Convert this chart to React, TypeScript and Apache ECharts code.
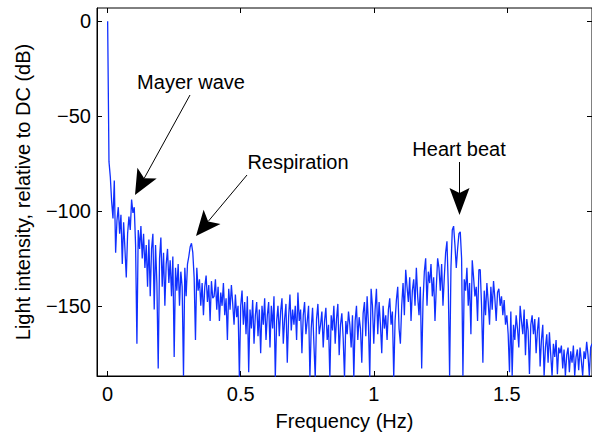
import { useEffect, useRef } from 'react';
import * as echarts from 'echarts';

const FREQ_STEP = 0.005;

const psd000to030 = [
  0, -74, -82, -95, -104, -84, -122, -105, -98, -112, -102, -128, -106, -120, -135, -112, -103, -110, -94, -101,
  -98, -118, -170, -110, -120, -108, -125, -112, -130, -118, -140, -115, -145, -120, -112, -152, -118, -138, -183, -125,
  -114, -140, -122, -150, -128, -120, -138, -126, -145, -124, -177, -130, -142, -128, -150, -132, -140, -187, -130, -145,
];
const psd030to060 = [
  -128, -124, -119, -117, -122, -135, -168, -130, -142, -136, -150, -138, -155, -140, -134, -148, -139, -158, -137, -146,
  -145, -136, -152, -140, -158, -143, -150, -138, -155, -146, -168, -141, -152, -139, -149, -160, -144, -156, -150, -188,
  -150, -142, -160, -148, -165, -145, -185, -152, -162, -147, -170, -155, -148, -166, -152, -175, -150, -160, -146, -168,
];
const psd060to090 = [
  -155, -148, -172, -150, -162, -145, -188, -158, -150, -166, -153, -146, -170, -157, -149, -180, -156, -144, -163, -152,
  -160, -150, -168, -143, -158, -152, -175, -155, -148, -165, -158, -150, -188, -162, -151, -170, -188, -157, -149, -165,
  -160, -153, -172, -158, -151, -168, -160, -188, -155, -163, -150, -170, -157, -149, -176, -160, -154, -167, -188, -158,
];
const psd090to120 = [
  -165, -153, -160, -172, -155, -188, -158, -150, -168, -156, -162, -180, -154, -148, -166, -145, -160, -188, -141, -150,
  -170, -152, -141, -165, -148, -160, -175, -150, -162, -155, -168, -152, -146, -160, -153, -188, -158, -147, -140, -162,
  -170, -150, -138, -155, -131, -140, -148, -135, -158, -142, -136, -150, -130, -145, -155, -140, -183, -148, -132, -125,
];
const psd120to150 = [
  -150, -132, -138, -128, -145, -135, -158, -140, -125, -130, -142, -128, -150, -135, -122, -116, -140, -187, -130, -110,
  -108, -118, -130, -120, -112, -111, -125, -187, -136, -142, -130, -150, -138, -165, -126, -135, -145, -140, -158, -131,
  -131, -150, -180, -142, -155, -138, -148, -160, -140, -152, -137, -146, -158, -143, -141, -150, -145, -155, -147, -160,
];
const psd150to182 = [
  -155, -165, -185, -153, -187, -160, -168, -155, -162, -172, -150, -158, -165, -152, -176, -157, -163, -186, -160, -155,
  -165, -157, -175, -163, -156, -182, -168, -160, -187, -172, -165, -180, -164, -176, -187, -170, -177, -168, -186, -172,
  -175, -171, -183, -173, -187, -176, -172, -185, -174, -180, -171, -187, -177, -173, -184, -172, -179, -187, -174, -178,
  -169, -176, -187, -172, -170,
];

const xTicks = [0, 0.5, 1, 1.5];
const yTicks = [0, -50, -100, -150];

const FONT = 'Liberation Sans, Arial, Helvetica, sans-serif';

function arrow(fx: number, fy: number, tx: number, ty: number, len: number, half: number, notch: number) {
  const dx = tx - fx;
  const dy = ty - fy;
  const d = Math.hypot(dx, dy);
  const ux = dx / d;
  const uy = dy / d;
  const nx = -uy;
  const ny = ux;
  const bx = tx - len * ux;
  const by = ty - len * uy;
  const kx = tx - (len - notch) * ux;
  const ky = ty - (len - notch) * uy;
  return [
    {
      type: 'line',
      shape: { x1: fx, y1: fy, x2: kx, y2: ky },
      style: { stroke: '#000', lineWidth: 1 },
      silent: true,
    },
    {
      type: 'polygon',
      shape: {
        points: [
          [tx, ty],
          [bx + half * nx, by + half * ny],
          [kx, ky],
          [bx - half * nx, by - half * ny],
        ],
      },
      style: { fill: '#000' },
      silent: true,
    },
  ];
}

function label(text: string, x: number, y: number) {
  return {
    type: 'text',
    x,
    y,
    style: {
      text,
      fill: '#000',
      font: `20px ${FONT}`,
      align: 'center',
      verticalAlign: 'middle',
    },
    silent: true,
  };
}

export default function App() {
  const ref = useRef<HTMLDivElement>(null);

  useEffect(() => {
    if (!ref.current) return;
    const chart = echarts.init(ref.current, null, { renderer: 'svg' });

    const values = [...psd000to030, ...psd030to060, ...psd060to090, ...psd090to120, ...psd120to150, ...psd150to182];
    const data = values.map((v, i) => [Number((i * FREQ_STEP).toFixed(3)), v]);

    const fmt = (v: number) => String(v).replace('-', '\u2212');

    const tick = (vals: number[]) => ({
      show: true,
      inside: true,
      length: 5,
      customValues: vals,
      lineStyle: { color: '#000', width: 1 },
    });

    const option: any = {
      animation: false,
      backgroundColor: '#fff',
      grid: {
        left: 97,
        top: 8,
        right: -1,
        bottom: 58,
        show: true,
        borderColor: '#000',
        borderWidth: 1,
        backgroundColor: 'transparent',
      },
      xAxis: [
        {
          type: 'value',
          min: -0.04,
          max: 1.82,
          position: 'bottom',
          name: 'Frequency (Hz)',
          nameLocation: 'middle',
          nameGap: 35,
          nameTextStyle: { color: '#000', fontSize: 20, fontFamily: FONT },
          axisLine: { show: true, onZero: false, lineStyle: { color: '#000', width: 1 } },
          axisTick: tick(xTicks),
          axisLabel: { show: true, customValues: xTicks, color: '#000', fontSize: 20, fontFamily: FONT, margin: 8, formatter: fmt },
          splitLine: { show: false },
        },
        {
          type: 'value',
          min: -0.04,
          max: 1.82,
          position: 'top',
          axisLine: { show: false, onZero: false },
          axisTick: tick(xTicks),
          axisLabel: { show: false },
          splitLine: { show: false },
        },
      ],
      yAxis: [
        {
          type: 'value',
          min: -187,
          max: 7,
          position: 'left',
          name: 'Light intensity, relative to DC (dB)',
          nameLocation: 'middle',
          nameGap: 64,
          nameTextStyle: { color: '#000', fontSize: 20, fontFamily: FONT },
          axisLine: { show: true, onZero: false, lineStyle: { color: '#000', width: 1 } },
          axisTick: tick(yTicks),
          axisLabel: { show: true, customValues: yTicks, color: '#000', fontSize: 20, fontFamily: FONT, margin: 6, formatter: fmt },
          splitLine: { show: false },
        },
        {
          type: 'value',
          min: -187,
          max: 7,
          position: 'right',
          axisLine: { show: false, onZero: false },
          axisTick: tick(yTicks),
          axisLabel: { show: false },
          splitLine: { show: false },
        },
      ],
      series: [
        {
          type: 'line',
          data,
          xAxisIndex: 0,
          yAxisIndex: 0,
          showSymbol: false,
          symbol: 'none',
          clip: true,
          lineStyle: { color: '#1030ff', width: 1.3 },
        },
      ],
      graphic: [
        label('Mayer wave', 191, 82),
        ...arrow(190, 95, 135, 195, 25, 11, 6),
        label('Respiration', 298, 162),
        ...arrow(247, 175, 196, 236, 25, 11, 6),
        label('Heart beat', 459, 149),
        ...arrow(459.5, 162, 459.5, 215, 27, 10, 5),
      ],
    };

    chart.setOption(option);
    return () => chart.dispose();
  }, []);

  return (
    <div
      ref={ref}
      style={{ position: 'absolute', left: 0, top: 0, width: 592, height: 436, background: '#fff' }}
    />
  );
}
